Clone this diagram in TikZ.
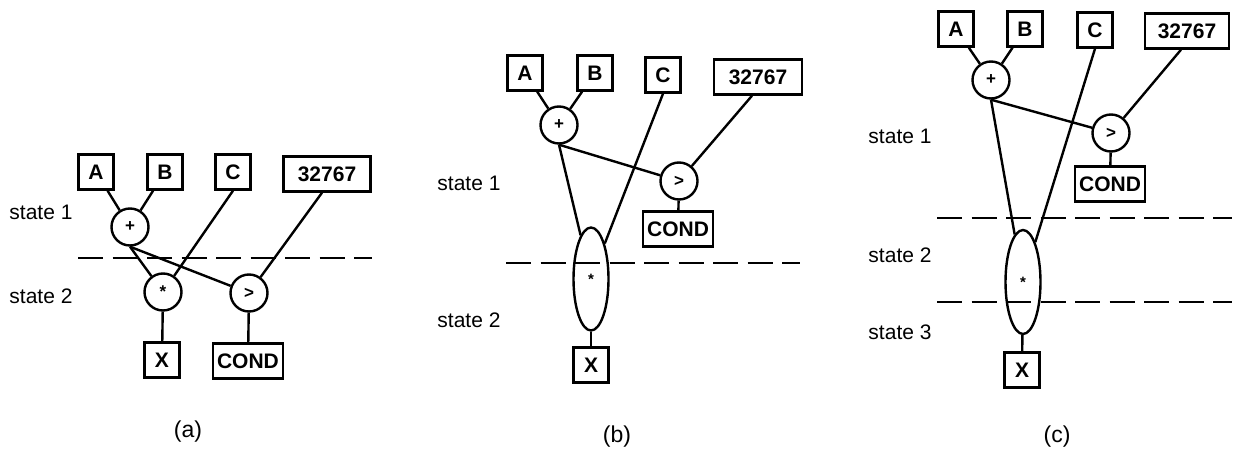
\documentclass[tikz,border=0pt]{standalone}
\usepackage{fontspec}
\setmainfont{Liberation Sans}
\usetikzlibrary{shapes.geometric}
\tikzset{
  box/.style={draw, line width=2.4pt, minimum height=35pt, minimum width=35pt, inner sep=0pt,
    font=\fontsize{21}{21}\selectfont\bfseries},
  op/.style={draw, circle, line width=2.4pt, minimum size=37pt, inner sep=0pt,
    font=\fontsize{17}{17}\selectfont\bfseries},
  fused/.style={draw, ellipse, line width=2.4pt, minimum width=35pt, minimum height=103pt, inner sep=0pt,
    font=\fontsize{15}{15}\selectfont\bfseries},
  wire/.style={line width=2.4pt},
  cut/.style={line width=2.5pt, dash pattern=on 25pt off 9.5pt},
  lbl/.style={font=\fontsize{21}{21}\selectfont},
  subcap/.style={font=\fontsize{23}{23}\selectfont}
}
\begin{document}
\begin{tikzpicture}[x=1pt, y=-1pt]
\useasboundingbox (0,0) rectangle (1234,455);

% ---------- (a): two states ----------
\node[box] (aA) at (96,172) {A};
\node[box] (aB) at (165,172) {B};
\node[box] (aC) at (233,172) {C};
\node[box, minimum width=87pt] (aK) at (327,174) {32767};
\node[op] (aplus) at (130,227) {+};
\node[op] (astar) at (163,292) {*};
\node[op] (agt) at (249,293) {>};
\node[box] (aX) at (162,360) {X};
\node[box, minimum width=70pt] (acond) at (248,361) {COND};
\node[lbl] (as1) at (41,212) {state 1};
\node[lbl] (as2) at (41,296) {state 2};
\node[subcap] (acap) at (188,432) {(a)};
\coordinate (acl) at (78,258);
\coordinate (acr) at (372,258);
\draw[cut] (acl) -- (acr);
\draw[wire] (aA) -- (aplus);
\draw[wire] (aB) -- (aplus);
\draw[wire] (aplus.south) -- (astar);
\draw[wire] (aplus.south) -- (agt);
\draw[wire] (aC.south) -- (astar);
\draw[wire] ([xshift=-5pt]aK.south) -- (agt);
\draw[wire] (astar) -- (aX);
\draw[wire] (agt) -- (acond);

% ---------- (b): multiplier stretched over two states ----------
\node[box] (bA) at (525,73) {A};
\node[box] (bB) at (595,73) {B};
\node[box] (bC) at (663,75) {C};
\node[box, minimum width=88pt] (bK) at (758,77) {32767};
\node[op] (bplus) at (559,125) {+};
\node[op] (bgt) at (679,181) {>};
\node[box, minimum width=70pt] (bcond) at (678,229) {COND};
\node[fused] (bstar) at (591,279) {*};
\node[box] (bX) at (591,365) {X};
\node[lbl] (bs1) at (469,183) {state 1};
\node[lbl] (bs2) at (469,320) {state 2};
\node[subcap] (bcap) at (617,437) {(b)};
\coordinate (bcl) at (506,263);
\coordinate (bcr) at (800,263);
\draw[cut] (bcl) -- (bcr);
\draw[wire] (bA) -- (bplus);
\draw[wire] (bB) -- (bplus);
\draw[wire] (bplus.south) -- (bstar);
\draw[wire] (bplus.south) -- (bgt);
\draw[wire] (bC.south) -- (bstar);
\draw[wire] ([xshift=-6pt]bK.south) -- (bgt);
\draw[wire] (bstar) -- (bX);
\draw[wire] (bgt) -- (bcond);

% ---------- (c): multiplier stretched over three states ----------
\node[box] (cA) at (956,29) {A};
\node[box] (cB) at (1025,29) {B};
\node[box] (cC) at (1095,30) {C};
\node[box, minimum width=84pt] (cK) at (1187,31) {32767};
\node[op] (cplus) at (991,80) {+};
\node[op] (cgt) at (1111,133) {>};
\node[box, minimum width=70pt] (ccond) at (1110,184) {COND};
\node[fused, minimum height=104pt] (cstar) at (1023,282) {*};
\node[box] (cX) at (1022,370) {X};
\node[lbl] (cs1) at (900,136) {state 1};
\node[lbl] (cs2) at (900,255) {state 2};
\node[lbl] (cs3) at (900,332) {state 3};
\node[subcap] (ccap) at (1057,437) {(c)};
\coordinate (c1l) at (937,218);
\coordinate (c1r) at (1232,218);
\coordinate (c2l) at (937,302);
\coordinate (c2r) at (1232,302);
\draw[cut] (c1l) -- (c1r);
\draw[cut] (c2l) -- (c2r);
\draw[wire] (cA) -- (cplus);
\draw[wire] (cB) -- (cplus);
\draw[wire] (cplus.south) -- (cstar);
\draw[wire] (cplus.south) -- (cgt);
\draw[wire] (cC.south) -- (cstar);
\draw[wire] ([xshift=-6pt]cK.south) -- (cgt);
\draw[wire] (cstar) -- (cX);
\draw[wire] (cgt) -- (ccond);
\end{tikzpicture}
\end{document}
